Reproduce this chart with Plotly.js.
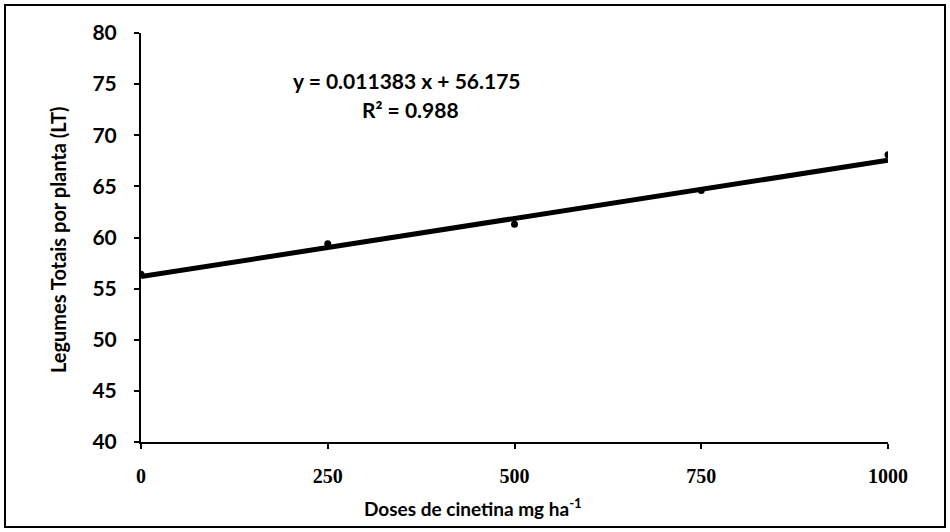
<!DOCTYPE html>
<html>
<head>
<meta charset="utf-8">
<script src="https://cdn.plot.ly/plotly-3.0.1.min.js"></script>
<style>
  html, body { margin: 0; padding: 0; background: #fff; }
  #frame { position: absolute; left: 4px; top: 4px; width: 942px; height: 524px; border: 2px solid #000; box-sizing: border-box; }
  #chart { width: 938px; height: 520px; }
</style>
</head>
<body>
<div id="frame"><div id="chart"></div></div>
<script>
// Data
const doses = [0, 250, 500, 750, 1000];
const legumes = [56.4, 59.4, 61.3, 64.6, 68.1];
// Trend line coefficients (as printed on the chart)
const slope = [0.011383];
const intercept = [56.175];
const trendX = [0, 1000];
const xTicks = [0, 250, 500, 750, 1000];
const yTicks = [40, 45, 50, 55, 60, 65, 70, 75, 80];
const xTitle = 'Doses de cinetina mg ha<sup>-1</sup>';
const yTitle = 'Legumes Totais por planta (LT)';
const eqText = 'y = 0.011383 x + 56.175';
const r2Text = 'R² = 0.988';

const trendY = trendX.map(x => slope[0] * x + intercept[0]);
const FONT = "Lato, 'Open Sans', sans-serif";
const SERIF = "'Liberation Serif', 'DejaVu Serif', serif";

const data = [
  {
    x: trendX, y: trendY, type: 'scatter', mode: 'lines',
    line: { color: '#000', width: 5 }, hoverinfo: 'skip', showlegend: false
  },
  {
    x: doses, y: legumes, type: 'scatter', mode: 'markers',
    marker: { color: '#000', size: 7 }, showlegend: false
  }
];

const layout = {
  width: 938, height: 520,
  margin: { l: 135, r: 56, t: 27, b: 84 },
  paper_bgcolor: '#fff', plot_bgcolor: '#fff',
  font: { family: FONT, color: '#000' },
  showlegend: false,
  xaxis: {
    range: [0, 1000], tickvals: xTicks, ticktext: xTicks.map(String),
    showgrid: false, zeroline: false, showline: true, linecolor: '#000', linewidth: 2,
    ticks: 'outside', ticklen: 5, tickwidth: 2, tickcolor: '#000',
    ticklabelstandoff: 10,
    tickfont: { family: SERIF, size: 20, color: '#000', weight: 'bold' }
  },
  yaxis: {
    range: [40, 80], tickvals: yTicks,
    showgrid: false, zeroline: false, showline: true, linecolor: '#000', linewidth: 2,
    ticks: 'outside', ticklen: 5, tickwidth: 2, tickcolor: '#000',
    ticklabelstandoff: 13,
    tickfont: { family: FONT, size: 21, color: '#000', weight: 'bold' }
  },
  annotations: [
    {
      xref: 'paper', yref: 'paper', x: 0.356, y: 0.885, xanchor: 'center', yanchor: 'middle',
      text: eqText, showarrow: false,
      font: { family: FONT, size: 21, color: '#000', weight: 'bold' }
    },
    {
      xref: 'paper', yref: 'paper', x: 0.361, y: 0.812, xanchor: 'center', yanchor: 'middle',
      text: r2Text, showarrow: false,
      font: { family: FONT, size: 21, color: '#000', weight: 'bold' }
    },
    {
      xref: 'paper', yref: 'paper', x: 0.445, y: -0.161, xanchor: 'center', yanchor: 'middle',
      text: xTitle, showarrow: false,
      font: { family: FONT, size: 19, color: '#000', weight: 'bold' }
    },
    {
      xref: 'paper', yref: 'paper', x: -0.111, y: 0.494, xanchor: 'center', yanchor: 'middle',
      text: yTitle, showarrow: false, textangle: -90,
      font: { family: FONT, size: 20, color: '#000', weight: 'bold' }
    }
  ]
};

Plotly.newPlot('chart', data, layout, { displayModeBar: false, staticPlot: true });
</script>
</body>
</html>
